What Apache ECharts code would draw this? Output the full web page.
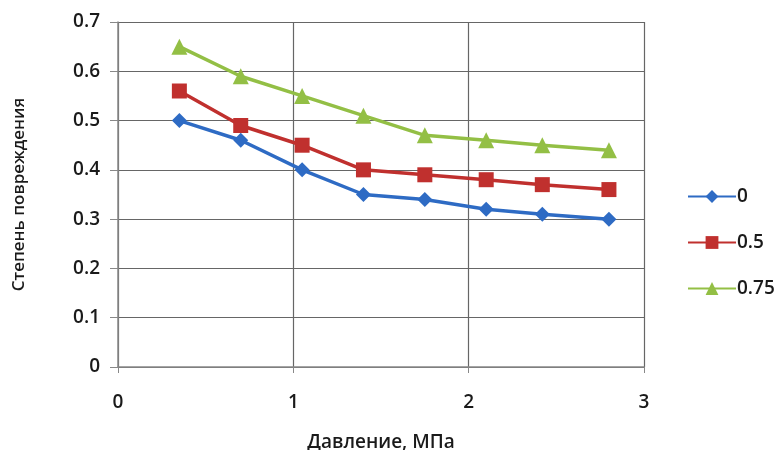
<!DOCTYPE html>
<html><head><meta charset="utf-8">
<script src="https://cdn.jsdelivr.net/npm/echarts@6/dist/echarts.min.js"></script>
<style>html,body{margin:0;padding:0;background:#fff}#c{width:780px;height:450px}</style>
</head><body><div id="c"></div>
<script>
const pressure = [0.35, 0.7, 1.05, 1.4, 1.75, 2.1, 2.42, 2.8];
const s0 = [0.50, 0.46, 0.40, 0.35, 0.34, 0.32, 0.31, 0.30];
const s05 = [0.56, 0.49, 0.45, 0.40, 0.39, 0.38, 0.37, 0.36];
const s075 = [0.65, 0.59, 0.55, 0.51, 0.47, 0.46, 0.45, 0.44];
const names = ['0', '0.5', '0.75'];
const xName = 'Давление, МПа';
const yName = 'Степень повреждения';

const font = '"Open Sans", "Noto Sans", sans-serif';
const zip = a => pressure.map((x, i) => [x, a[i]]);
const chart = echarts.init(document.getElementById('c'));
const mk = (name, data, color, symbol, size) => ({
  name, type: 'line', data: zip(data), symbol, symbolSize: size,
  lineStyle: { color, width: 3.5 }, itemStyle: { color }, z: 3
});
chart.setOption({
  animation: false,
  grid: { left: 118, right: 136, top: 22, bottom: 83, outerBoundsMode: 'none', containLabel: false },
  xAxis: {
    type: 'value', min: 0, max: 3, interval: 1,
    name: xName, nameLocation: 'middle', nameGap: 66,
    nameTextStyle: { fontFamily: font, fontSize: 19, color: '#1a1a1a', fontWeight: 600 },
    axisLine: { lineStyle: { color: '#888', width: 1.5 } },
    axisTick: { show: true, inside: false, length: 6, lineStyle: { color: '#888' } },
    axisLabel: { fontFamily: font, fontSize: 19, fontWeight: 600, color: '#1a1a1a', margin: 26 },
    splitLine: { lineStyle: { color: '#666', width: 1.2 } }
  },
  yAxis: {
    type: 'value', min: 0, max: 0.7, interval: 0.1,
    name: yName, nameLocation: 'middle', nameGap: 90, nameRotate: 90,
    nameTextStyle: { fontFamily: font, fontSize: 17, color: '#1a1a1a', fontWeight: 600 },
    axisLine: { show: true, lineStyle: { color: '#888', width: 1.5 } },
    axisTick: { show: true, length: 8, lineStyle: { color: '#888' } },
    axisLabel: { fontFamily: font, fontSize: 19, fontWeight: 600, color: '#1a1a1a', margin: 18,
      formatter: v => (Math.round(v * 10) / 10).toString() },
    splitLine: { lineStyle: { color: '#666', width: 1.2 } }
  },
  legend: {
    orient: 'vertical', left: 682, top: 182, itemGap: 27,
    itemWidth: 48, itemHeight: 16,
    textStyle: { fontFamily: font, fontSize: 19, fontWeight: 600, color: '#1a1a1a', padding: [0,0,0,-4] },
    data: names
  },
  series: [
    mk(names[0], s0, '#2e6bc4', 'diamond', 15),
    mk(names[1], s05, '#c0302e', 'rect', 15),
    mk(names[2], s075, '#93bf45', 'triangle', 16)
  ]
});
</script></body></html>
